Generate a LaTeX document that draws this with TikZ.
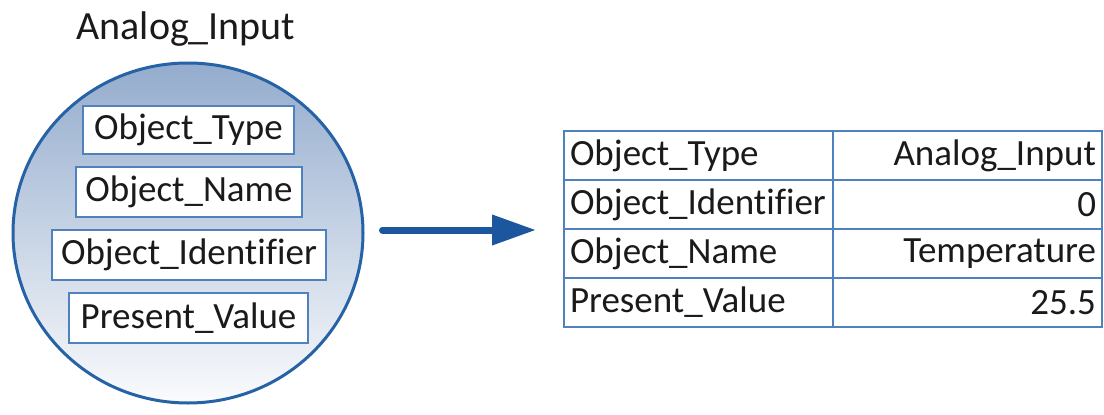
\documentclass[tikz,border=0pt]{standalone}
\usepackage{fontspec}
\setmainfont{Carlito}[Ligatures=NoCommon]
\usetikzlibrary{arrows.meta,shapes.geometric}
\definecolor{rimblue}{RGB}{38,98,166}
\definecolor{boxblue}{RGB}{79,129,189}
\definecolor{arrowblue}{RGB}{28,86,158}
\definecolor{topfill}{RGB}{148,172,205}
\definecolor{botfill}{RGB}{250,251,253}
\definecolor{ink}{RGB}{26,26,26}
\tikzset{
  txt/.style={font=\fontsize{37}{44}\selectfont, text=ink},
  field/.style={txt, draw=boxblue, line width=2pt, fill=white, inner sep=0pt},
  lcell/.style={txt, draw=boxblue, line width=2pt, minimum height=49pt,
    text width=257pt, inner xsep=6pt, inner ysep=0pt, align=left},
  rcell/.style={lcell, align=right},
  flow/.style={draw=arrowblue, line width=7pt, line cap=round,
    -{Triangle[length=44pt,width=29pt]}},
}
\begin{document}
\begin{tikzpicture}[x=1pt,y=-1pt]
\useasboundingbox (0,0) rectangle (1104,415);

% object symbol with its property fields
\node[font=\fontsize{40}{48}\selectfont, text=ink] (title) at (186,29) {Analog\_Input};
\node[ellipse, draw=rimblue, line width=3pt, top color=topfill, bottom color=botfill,
      minimum width=350pt, minimum height=340pt, inner sep=0pt] (obj) at (188,233) {};
\node[field, minimum width=211pt, minimum height=48pt] (ftype) at (188.5,130) {Object\_Type};
\node[field, minimum width=226pt, minimum height=50pt] (fname) at (189,192) {Object\_Name};
\node[field, minimum width=274pt, minimum height=50pt] (fid)   at (189,255) {Object\_Identifier};
\node[field, minimum width=239pt, minimum height=50pt] (fpv)   at (188.5,318) {Present\_Value};

% property table
\node[lcell] (t1l) at (698.5,155.5) {Object\_Type};
\node[rcell] (t1r) at (967.5,155.5) {Analog\_Input};
\node[lcell] (t2l) at (698.5,204.5) {Object\_Identifier};
\node[rcell] (t2r) at (967.5,204.5) {0};
\node[lcell] (t3l) at (698.5,253.5) {Object\_Name};
\node[rcell] (t3r) at (967.5,253.5) {Temperature};
\node[lcell] (t4l) at (698.5,302.5) {Present\_Value};
\node[rcell] (t4r) at (967.5,302.5) {25.5};

% mapping arrow
\draw[flow, shorten <=18pt, shorten >=27pt] (obj.east |- t2l.south west) -- (t2l.south west);
\end{tikzpicture}
\end{document}
